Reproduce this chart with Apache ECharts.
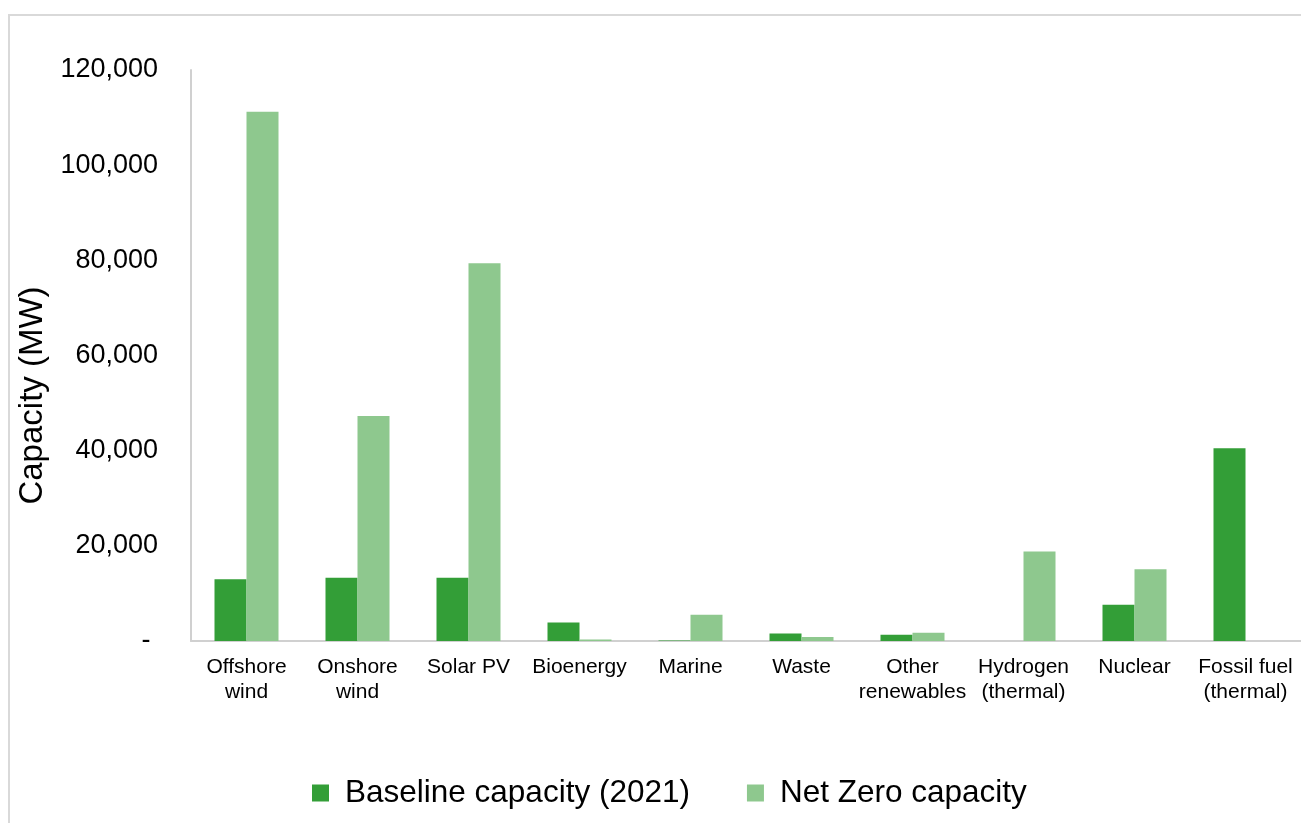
<!DOCTYPE html>
<html>
<head>
<meta charset="utf-8">
<script src="https://cdn.jsdelivr.net/npm/echarts@6/dist/echarts.min.js"></script>
<style>
  html, body { margin: 0; padding: 0; background: #ffffff; }
  #chart { width: 1301px; height: 823px; }
</style>
</head>
<body>
<div id="chart"></div>
<script>
// Installed capacity by technology (MW)
const categories = [
  'Offshore\nwind', 'Onshore\nwind', 'Solar PV', 'Bioenergy', 'Marine',
  'Waste', 'Other\nrenewables', 'Hydrogen\n(thermal)', 'Nuclear', 'Fossil fuel\n(thermal)'
];
const baselineCapacity = [13000, 13300, 13300, 3900, 100, 1600, 1300, 0, 7600, 40500];
const netZeroCapacity  = [111200, 47300, 79400, 300, 5500, 850, 1750, 18800, 15100, 0];
const yTicks = [0, 20000, 40000, 60000, 80000, 100000, 120000];

const seriesNames = ['Baseline capacity (2021)', 'Net Zero capacity'];
const colors = ['#339e37', '#8ec88e'];

const chart = echarts.init(document.getElementById('chart'), null, { renderer: 'canvas' });

const fontFamily = '"Liberation Sans", Arial, sans-serif';

chart.setOption({
  animation: false,
  backgroundColor: '#ffffff',
  textStyle: { fontFamily: fontFamily },
  graphic: [{
    type: 'rect',
    x: 9, y: 15,
    shape: { x: 0, y: 0, width: 1400, height: 900 },
    style: { fill: 'none', stroke: '#d9d9d9', lineWidth: 2 },
    silent: true
  }],
  grid: { left: 191, right: 0, top: 70, bottom: 182, containLabel: false },
  legend: {
    data: seriesNames,
    left: 307, top: 772,
    itemWidth: 17, itemHeight: 17,
    itemGap: 57,
    icon: 'rect',
    textStyle: { fontSize: 31.5, color: '#000000', fontFamily: fontFamily, padding: [0, 0, 0, 11] }
  },
  xAxis: {
    type: 'category',
    data: categories,
    axisLine: { show: true, lineStyle: { color: '#d0d0d0', width: 2 } },
    axisTick: { show: false },
    axisLabel: { color: '#000000', fontSize: 21, lineHeight: 25, margin: 14, interval: 0, fontFamily: fontFamily }
  },
  yAxis: {
    type: 'value',
    min: yTicks[0],
    max: yTicks[yTicks.length - 1],
    interval: yTicks[1] - yTicks[0],
    name: 'Capacity (MW)',
    nameLocation: 'middle',
    nameGap: 131,
    nameTextStyle: { fontSize: 33, color: '#000000', fontFamily: fontFamily, padding: [0, 80, 0, 0] },
    axisLine: { show: true, lineStyle: { color: '#d0d0d0', width: 2 } },
    axisTick: { show: false },
    splitLine: { show: false },
    axisLabel: {
      color: '#000000', fontSize: 27, margin: 33, fontFamily: fontFamily, padding: [5, 0, 0, 0],
      formatter: function (v) { return v === 0 ? '- ' : v.toLocaleString('en-US'); }
    }
  },
  series: [
    {
      name: seriesNames[0], type: 'bar', data: baselineCapacity,
      barWidth: 32, barGap: '0%',
      itemStyle: { color: colors[0] }
    },
    {
      name: seriesNames[1], type: 'bar', data: netZeroCapacity,
      barWidth: 32, barGap: '0%',
      itemStyle: { color: colors[1] }
    }
  ]
});
</script>
</body>
</html>
